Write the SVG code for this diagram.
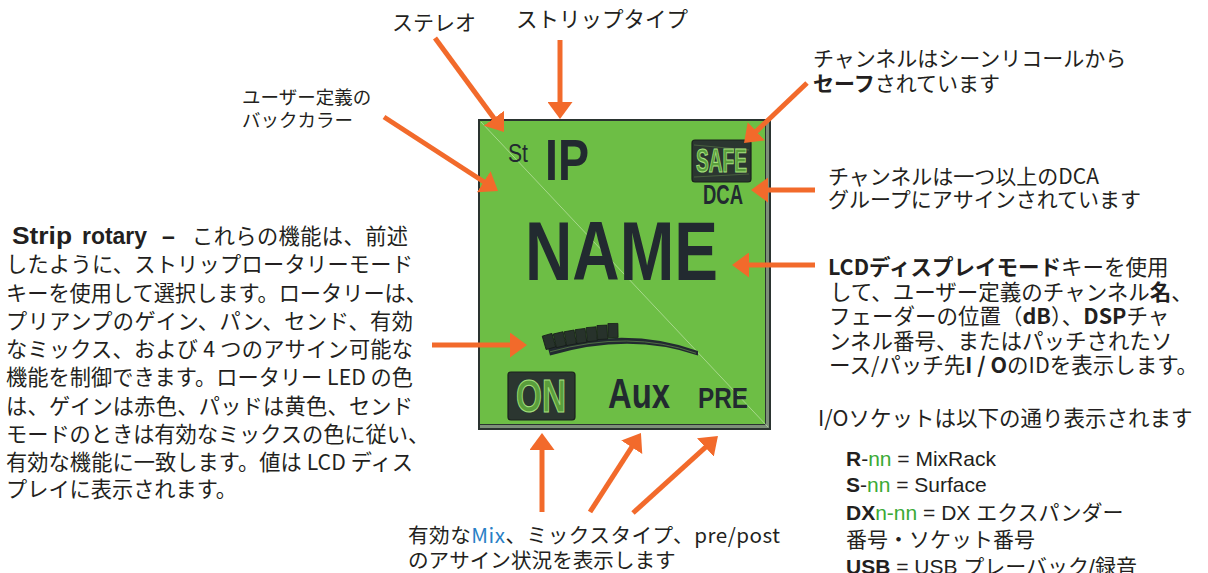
<svg xmlns="http://www.w3.org/2000/svg" width="1208" height="573" viewBox="0 0 1208 573">
<defs>
<style>
.jp{font-family:"Noto Sans CJK JP",sans-serif;fill:#231f20}
.b{font-weight:bold}
.lat{font-family:"Liberation Sans","Noto Sans CJK JP",Arial,sans-serif;fill:#231f20}
.lcd{font-family:"Liberation Sans",Arial,sans-serif;font-weight:bold;fill:#222a30}
.lcdr{font-family:"Liberation Sans",Arial,sans-serif;fill:#222a30}
.arrow{stroke:#f26a2b;stroke-width:5;fill:none;marker-end:url(#ah)}
.g{fill:#3aaa35}
.blue{fill:#2a7fc6}
.seg{fill:#27322b;stroke:#161d19;stroke-width:0.8}
.box{fill:#2b3630;stroke:#1a211d;stroke-width:1.2}
.otext{fill:#5a9e3c;stroke:#a6e07f;stroke-width:1.1}
</style>
<marker id="ah" markerUnits="userSpaceOnUse" markerWidth="17" markerHeight="25" refX="6" refY="12.5" orient="auto" viewBox="0 0 17 25"><path d="M0,0 L17,12.5 L0,25 Z" fill="#f26a2b"/></marker>
</defs>
<rect width="1208" height="573" fill="#ffffff"/>

<g id="lcd">
<rect x="479" y="120" width="291" height="309" fill="#6dbe45"/>
<rect x="766" y="121" width="4" height="308" fill="#7d8f7a"/>
<rect x="480" y="425" width="290" height="4" fill="#7d8f7a"/>
<line x1="765.5" y1="121" x2="765.5" y2="425" stroke="#2a3330" stroke-width="1"/>
<line x1="480" y1="424.5" x2="766" y2="424.5" stroke="#2a3330" stroke-width="1"/>
<rect x="479" y="120" width="291" height="309" fill="none" stroke="#2a3330" stroke-width="2"/>
<line x1="481" y1="122" x2="768" y2="427" stroke="#c3e6ad" stroke-width="0.8" opacity="0.85"/>
<text class="lcdr" x="508" y="162" font-size="26" textLength="20" lengthAdjust="spacingAndGlyphs">St</text>
<text class="lcd" x="545" y="180" font-size="58" textLength="44" lengthAdjust="spacingAndGlyphs">IP</text>
<g id="safe">
<rect class="box" x="692" y="140" width="59" height="42" rx="3"/>
<line x1="694" y1="145" x2="749" y2="150" stroke="#4f6a43" stroke-width="0.8"/>
<line x1="694" y1="177" x2="749" y2="174" stroke="#4f6a43" stroke-width="0.8"/>
<text class="lcd otext" x="696" y="172" font-size="33" textLength="51" lengthAdjust="spacingAndGlyphs">SAFE</text>
</g>
<text class="lcd" x="703" y="204" font-size="27" textLength="40" lengthAdjust="spacingAndGlyphs">DCA</text>
<text class="lcd" x="525" y="280" font-size="84" textLength="193" lengthAdjust="spacingAndGlyphs">NAME</text>
<g id="rotary-meter">
<path d="M548,348 Q630,326 698,351 L698,355.5 Q630,332 550,355.5 Z" fill="#222a30"/>
<path d="M550,351.8 Q630,329.5 696,353.2" stroke="#5b7d48" stroke-width="0.8" fill="none"/>
<rect class="seg" x="-5" y="-7" width="10" height="14" transform="translate(549,341.5) rotate(-16)"/>
<rect class="seg" x="-5" y="-7" width="10" height="14" transform="translate(559.7,339.7) rotate(-13)"/>
<rect class="seg" x="-5" y="-7" width="10" height="14" transform="translate(570.3,337.8) rotate(-10)"/>
<rect class="seg" x="-5" y="-7" width="10" height="14" transform="translate(581,336) rotate(-7.5)"/>
<rect class="seg" x="-5" y="-7" width="10" height="14" transform="translate(591.7,334.2) rotate(-5)"/>
<rect class="seg" x="-5" y="-7" width="10" height="14" transform="translate(602.3,332.3) rotate(-3)"/>
<rect class="seg" x="-5" y="-7" width="10" height="14" transform="translate(613,330.5) rotate(-1)"/>
</g>
<g id="on">
<rect class="box" x="508" y="372" width="67" height="48" rx="3"/>
<text class="lcd otext" x="516" y="412" font-size="47" textLength="50" lengthAdjust="spacingAndGlyphs">ON</text>
</g>
<text class="lcd" x="608" y="408" font-size="42" textLength="62" lengthAdjust="spacingAndGlyphs">Aux</text>
<text class="lcd" x="698" y="408" font-size="29" textLength="50" lengthAdjust="spacingAndGlyphs">PRE</text>
</g>

<g id="label-stereo"><text class="jp" x="392" y="30" font-size="21">ステレオ</text></g>
<g id="label-striptype"><text class="jp" x="516" y="27" font-size="21.5">ストリップタイプ</text></g>
<g id="label-backcolor">
<text class="jp" x="242" y="104" font-size="18.5">ユーザー定義の</text>
<text class="jp" x="242" y="127" font-size="18.5">バックカラー</text>
</g>
<g id="label-safe">
<text class="jp" x="813" y="66" font-size="21">チャンネルはシーンリコールから</text>
<text class="jp" x="813" y="91" font-size="21"><tspan class="b">セーフ</tspan>されています</text>
</g>
<g id="label-dca">
<text class="jp" x="828" y="184" font-size="21">チャンネルは一つ以上のDCA</text>
<text class="jp" x="828" y="207" font-size="21">グループにアサインされています</text>
</g>
<g id="label-name">
<text class="jp" x="828" y="275" font-size="21.5"><tspan class="b">LCDディスプレイモード</tspan>キーを使用</text>
<text class="jp" x="830" y="299.5" font-size="21.5">して、ユーザー定義のチャンネル<tspan class="b">名</tspan>、</text>
<text class="jp" x="829" y="324" font-size="21.5">フェーダーの位置（<tspan class="b">dB</tspan>）、<tspan class="b">DSP</tspan>チャ</text>
<text class="jp" x="829" y="348.5" font-size="21.5">ンネル番号、またはパッチされたソ</text>
<text class="jp" x="829" y="373" font-size="21.5">ース/パッチ先<tspan class="b">I / O</tspan>のIDを表示します。</text>
</g>
<g id="label-io">
<text class="jp" x="818" y="426" font-size="21.5">I/Oソケットは以下の通り表示されます</text>
<text class="lat" x="846" y="466" font-size="21"><tspan class="b">R</tspan>-<tspan class="g">nn</tspan> = MixRack</text>
<text class="lat" x="846" y="492" font-size="21"><tspan class="b">S</tspan>-<tspan class="g">nn</tspan> = Surface</text>
<text class="lat" x="846" y="520" font-size="21"><tspan class="b">DX</tspan><tspan class="g">n-nn</tspan> = DX エクスパンダー</text>
<text class="jp" x="846" y="547" font-size="21">番号・ソケット番号</text>
<text class="lat" x="846" y="574" font-size="21"><tspan class="b">USB</tspan> = USB プレーバック/録音</text>
</g>
<g id="label-rotary">
<text class="lat b" x="12" y="244" font-size="23" textLength="60" lengthAdjust="spacingAndGlyphs">Strip</text>
<text class="lat b" x="82" y="244" font-size="23" textLength="65" lengthAdjust="spacingAndGlyphs">rotary</text>
<text class="lat b" x="162" y="244" font-size="23">–</text>
<text class="jp" x="192" y="244" font-size="21.2" textLength="216">これらの機能は、前述</text>
<text class="jp" x="6" y="272" font-size="21.2" textLength="407">したように、ストリップロータリーモード</text>
<text class="jp" x="6" y="301" font-size="21.2">キーを使用して選択します。ロータリーは、</text>
<text class="jp" x="6" y="329" font-size="21.2" textLength="407">プリアンプのゲイン、パン、センド、有効</text>
<text class="jp" x="6" y="357" font-size="21.2" textLength="407">なミックス、および 4 つのアサイン可能な</text>
<text class="jp" x="6" y="385" font-size="21.2" textLength="407">機能を制御できます。ロータリー LED の色</text>
<text class="jp" x="6" y="414" font-size="21.2" textLength="407">は、ゲインは赤色、パッドは黄色、センド</text>
<text class="jp" x="6" y="442" font-size="21.2">モードのときは有効なミックスの色に従い、</text>
<text class="jp" x="6" y="470" font-size="21.2" textLength="407">有効な機能に一致します。値は LCD ディス</text>
<text class="jp" x="6" y="497" font-size="21.2">プレイに表示されます。</text>
</g>
<g id="label-mix">
<text class="jp" x="408" y="543" font-size="20.6" textLength="372">有効な<tspan class="blue">Mix</tspan>、ミックスタイプ、pre/post</text>
<text class="jp" x="408" y="568" font-size="20.6">のアサイン状況を表示します</text>
</g>

<g id="connectors">
<line class="arrow" x1="435" y1="38" x2="497.5" y2="123.1"/>
<line class="arrow" x1="560" y1="40" x2="560" y2="108"/>
<line class="arrow" x1="384" y1="117" x2="488.8" y2="185"/>
<line class="arrow" x1="807" y1="83" x2="752" y2="135.4"/>
<line class="arrow" x1="815" y1="190" x2="762" y2="190"/>
<line class="arrow" x1="815" y1="265" x2="743" y2="265"/>
<line class="arrow" x1="432" y1="345" x2="516" y2="345"/>
<line class="arrow" x1="542" y1="512" x2="542" y2="444"/>
<line class="arrow" x1="590" y1="512" x2="635" y2="442.2"/>
<line class="arrow" x1="633" y1="513" x2="709.8" y2="443.4"/>
</g>
</svg>
